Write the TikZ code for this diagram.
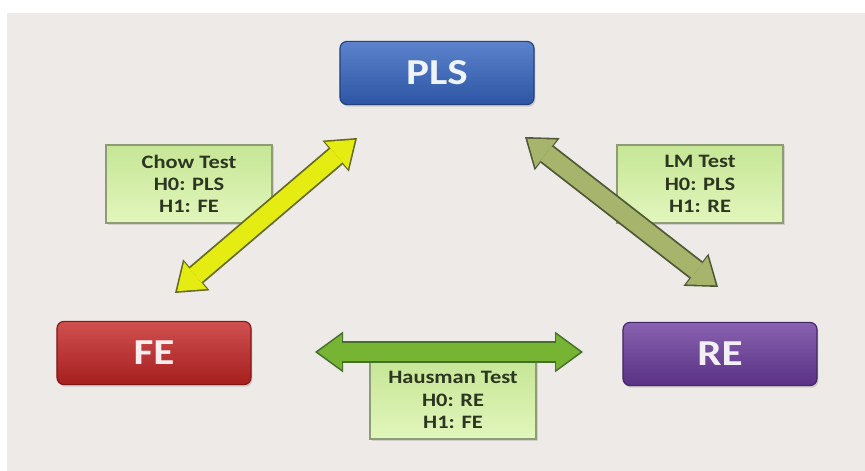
\documentclass[tikz,border=0pt]{standalone}
\usepackage{fontspec}
\setmainfont{Carlito}
\newfontfamily\wide[FakeStretch=1.18]{Carlito}
\usetikzlibrary{arrows.meta,shadows}
\definecolor{bg}{HTML}{EDEAE8}
\definecolor{plsblue}{HTML}{3464C0}
\definecolor{fered}{HTML}{C42424}
\definecolor{repurple}{HTML}{6A3A9C}
\definecolor{testtop}{HTML}{C6E696}
\definecolor{testbot}{HTML}{E2F6BC}
\definecolor{testedge}{HTML}{8E9C76}
\definecolor{testtext}{HTML}{2C3620}
\definecolor{chowfill}{HTML}{E4EC12}
\definecolor{chowedge}{HTML}{646A22}
\definecolor{lmfill}{HTML}{A6B46C}
\definecolor{lmedge}{HTML}{4E5834}
\definecolor{hausfill}{HTML}{78B434}
\definecolor{hausedge}{HTML}{44702A}
\begin{document}
\begin{tikzpicture}[x=0.025cm, y=-0.025cm,
     font=\wide\bfseries,
     model/.style={draw=#1!65!black, line width=0.8pt, rounded corners=5pt,
        top color=#1!80!white, bottom color=#1!85!black,
        minimum width=4.85cm, minimum height=1.58cm, inner sep=0pt,
        text=white!92!#1, font=\wide\bfseries\fontsize{26}{30}\selectfont,
        drop shadow={shadow xshift=1pt, shadow yshift=-1.5pt, opacity=0.3}},
     test/.style={draw=testedge, line width=1.5pt,
        top color=testtop, bottom color=testbot,
        minimum width=4.15cm, minimum height=1.97cm, inner sep=0pt,
        align=center, text=testtext,
        font=\wide\bfseries\fontsize{13.5}{15.8}\selectfont,
        drop shadow={shadow xshift=1.2pt, shadow yshift=-1.2pt, opacity=0.25}},
     twoway/.style 2 args={draw=#1, line width=0.45cm,
        {Triangle[width=0.88cm,length=0.6cm,line width=0pt]}-{Triangle[width=0.88cm,length=0.6cm,line width=0pt]},
        shorten <=0.07cm, shorten >=0.07cm,
        preaction={draw=#2, line width=0.54cm, shorten <=0pt, shorten >=0pt,
          {Triangle[width=1.02cm,length=0.7cm,line width=0pt]}-{Triangle[width=1.02cm,length=0.7cm,line width=0pt]}}}]
\fill[white] (0,0) rectangle (865,471);
\fill[bg] (7,13) rectangle (865,471);
\useasboundingbox (0,0) rectangle (865,471);

\node[model=plsblue] (pls) at (437,73) {PLS};
\node[model=fered] (fe) at (154,353) {FE};
\node[model=repurple] (re) at (720,354) {RE};

\node[test] (chow) at (189,184) {Chow Test\\H0: PLS\\H1: FE};
\node[test] (lm) at (700,184) {LM Test\\H0: PLS\\H1: RE};
\node[test] (haus) at (453,400) {Hausman Test\\H0: RE\\H1: FE};

\coordinate (pls left) at (357,138);
\coordinate (fe top) at (175,293);
\coordinate (pls right) at (525,137);
\coordinate (re top) at (718,287);
\coordinate (fe right) at (315,352);
\coordinate (re left) at (583,352);

\foreach \from/\to/\col in
    {pls left/fe top/chow, pls right/re top/lm, fe right/re left/haus}{
        \draw[twoway={\col fill}{\col edge}] (\from) -- (\to);
}
\end{tikzpicture}
\end{document}
